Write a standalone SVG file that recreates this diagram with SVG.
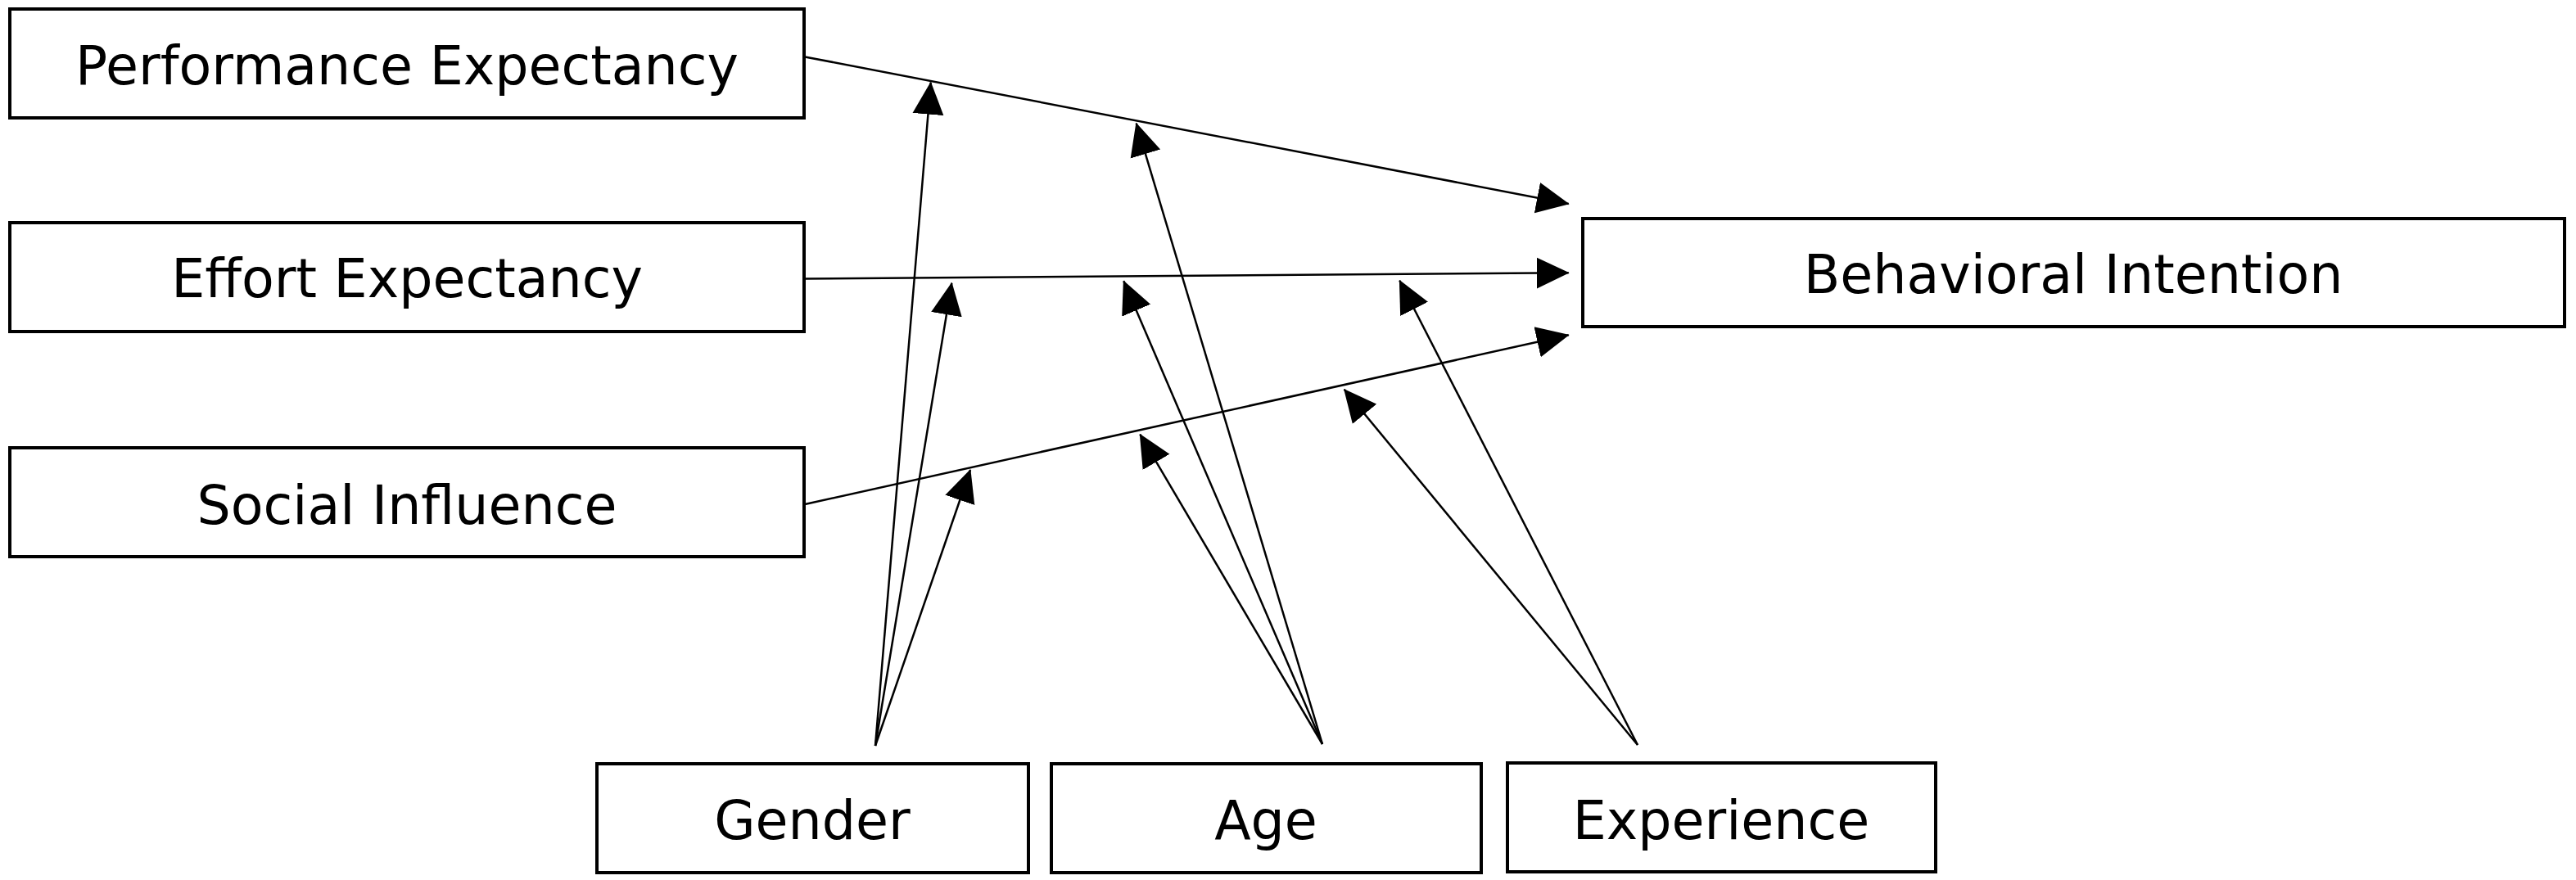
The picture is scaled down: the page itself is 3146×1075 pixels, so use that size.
<svg xmlns="http://www.w3.org/2000/svg" width="3146" height="1075" viewBox="0 0 3146 1075">
  <style>
    .box { fill: #ffffff; stroke: #000000; stroke-width: 4; }
    .lbl { font-family: "DejaVu Sans", "Liberation Sans", sans-serif; font-size: 65px; fill: #000000; text-anchor: middle; }
    .conn { stroke: #000000; stroke-width: 2.5; fill: none; marker-end: url(#arrow); }
  </style>
  <defs>
    <marker id="arrow" markerUnits="userSpaceOnUse" markerWidth="40" markerHeight="40" viewBox="0 0 40 40" refX="39" refY="20" orient="auto">
      <path d="M0,1 L40,20 L0,39 z" fill="#000000"/>
    </marker>
  </defs>
  <rect width="3146" height="1075" fill="#ffffff"/>
  <g id="connectors">
    <line class="conn" x1="983" y1="69.4" x2="1915.7" y2="249"/>
    <line class="conn" x1="983" y1="340.5" x2="1915.7" y2="333.3"/>
    <line class="conn" x1="983" y1="616" x2="1915.7" y2="409.3"/>
    <line class="conn" x1="1069" y1="911" x2="1136.7" y2="100.7"/>
    <line class="conn" x1="1069" y1="911" x2="1162.3" y2="345.7"/>
    <line class="conn" x1="1069" y1="911" x2="1185" y2="574"/>
    <line class="conn" x1="1615" y1="909" x2="1387.7" y2="150.7"/>
    <line class="conn" x1="1615" y1="909" x2="1372.3" y2="343.3"/>
    <line class="conn" x1="1615" y1="909" x2="1392.3" y2="530.7"/>
    <line class="conn" x1="2000" y1="910" x2="1709.3" y2="342.7"/>
    <line class="conn" x1="2000" y1="910" x2="1641.7" y2="475.7"/>
  </g>
  <g id="performance-expectancy">
    <rect class="box" x="12" y="11" width="970" height="133"/>
    <text class="lbl" x="497" y="103">Performance Expectancy</text>
  </g>
  <g id="effort-expectancy">
    <rect class="box" x="12" y="272" width="970" height="133"/>
    <text class="lbl" x="497" y="363">Effort Expectancy</text>
  </g>
  <g id="social-influence">
    <rect class="box" x="12" y="547" width="970" height="133"/>
    <text class="lbl" x="497" y="640">Social Influence</text>
  </g>
  <g id="behavioral-intention">
    <rect class="box" x="1933" y="267" width="1199" height="132"/>
    <text class="lbl" x="2532" y="358">Behavioral Intention</text>
  </g>
  <g id="gender">
    <rect class="box" x="729" y="933" width="527" height="133"/>
    <text class="lbl" x="992" y="1025">Gender</text>
  </g>
  <g id="age">
    <rect class="box" x="1284" y="933" width="525" height="133"/>
    <text class="lbl" x="1546" y="1025">Age</text>
  </g>
  <g id="experience">
    <rect class="box" x="1841" y="932" width="523" height="133"/>
    <text class="lbl" x="2102" y="1025">Experience</text>
  </g>
</svg>
